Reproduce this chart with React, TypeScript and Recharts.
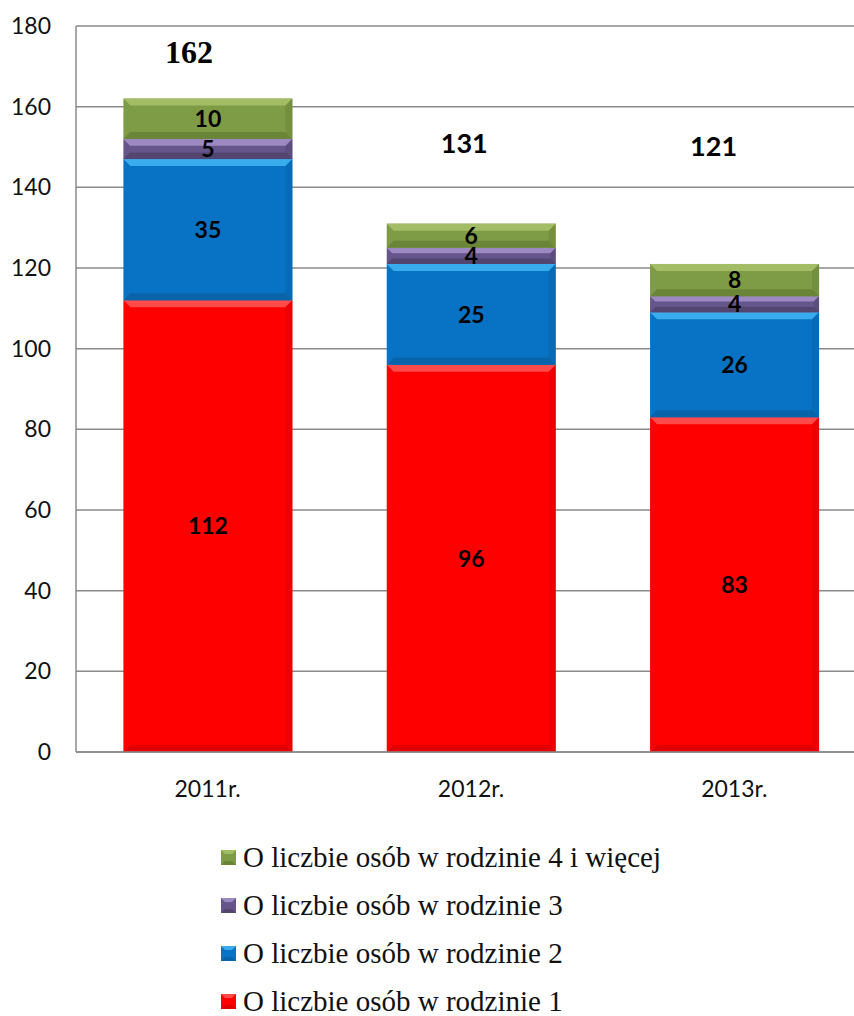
import { BarChart, Bar, XAxis, YAxis, CartesianGrid, LabelList } from "recharts";

const years = ["2011r.", "2012r.", "2013r."];
const family1 = [112, 96, 83];
const family2 = [35, 25, 26];
const family3 = [5, 4, 4];
const family4plus = [10, 6, 8];
const yTicks = [0, 20, 40, 60, 80, 100, 120, 140, 160, 180];

const seriesNames = [
  "O liczbie osób w rodzinie 1",
  "O liczbie osób w rodzinie 2",
  "O liczbie osób w rodzinie 3",
  "O liczbie osób w rodzinie 4 i więcej",
];

const SERIF = "'Liberation Serif', 'Times New Roman', 'DejaVu Serif', serif";
const SANS = "Lato";

// main / light bevel / dark bevel
const palette = [
  { main: "#ff0000", light: "#ff4a4a", dark: "#e00000" },
  { main: "#0873c4", light: "#38acec", dark: "#0863a8" },
  { main: "#65558a", light: "#9c89c2", dark: "#524670" },
  { main: "#7e9b45", light: "#a2bd66", dark: "#6a8538" },
];

// where the total sits relative to the top of each stack (as in the source)
const totalShift = [
  { dx: -19, dy: -47, font: SERIF, size: 32 },
  { dx: -7, dy: -81, font: SANS, size: 27 },
  { dx: -21, dy: -118, font: SANS, size: 27 },
];

const data = years.map((year, i) => ({
  year,
  f1: family1[i],
  f2: family2[i],
  f3: family3[i],
  f4: family4plus[i],
  total: family1[i] + family2[i] + family3[i] + family4plus[i],
}));

const keys = ["f1", "f2", "f3", "f4"];

function bevelShape(colors: { main: string; light: string; dark: string }) {
  return (props: any) => {
    const { x, y, width, height } = props;
    if (!height || height <= 0) return <g />;
    const b = Math.min(7, height / 3);
    return (
      <g>
        <rect x={x} y={y} width={width} height={height} fill={colors.main} />
        <polygon
          points={`${x},${y} ${x + width},${y} ${x + width - b},${y + b} ${x + b},${y + b}`}
          fill={colors.light}
        />
        <polygon
          points={`${x},${y + height} ${x + width},${y + height} ${x + width - b},${y + height - b} ${x + b},${y + height - b}`}
          fill={colors.dark}
        />
        <polygon
          points={`${x + width},${y} ${x + width - b},${y + b} ${x + width - b},${y + height - b} ${x + width},${y + height}`}
          fill={colors.dark}
          opacity={0.5}
        />
      </g>
    );
  };
}

const TotalLabel = (props: any) => {
  const { x, y, width, index } = props;
  const s = totalShift[index];
  return (
    <text
      x={x + width / 2 + s.dx}
      y={y + s.dy}
      textAnchor="middle"
      dominantBaseline="central"
      fontFamily={s.font}
      fontSize={s.size}
      fontWeight={700}
      fill="#000"
    >
      {data[index].total}
    </text>
  );
};

function LegendSwatch({ colors }: { colors: { main: string; light: string; dark: string } }) {
  return (
    <svg width={15} height={15} style={{ display: "block" }}>
      <rect x={0} y={0} width={15} height={15} fill={colors.main} />
      <polygon points="0,0 15,0 11,4 4,4" fill={colors.light} />
      <polygon points="0,15 15,15 11,11 4,11" fill={colors.dark} />
    </svg>
  );
}

export default function App() {
  const legendOrder = [3, 2, 1, 0];
  return (
    <div style={{ position: "absolute", left: 0, top: 0, width: 854, height: 1016, overflow: "hidden", background: "#fff" }}>
      <BarChart
        width={866}
        height={820}
        data={data}
        margin={{ top: 26, right: 0, left: 0, bottom: 0 }}
        barCategoryGap="18%"
      >
        <CartesianGrid vertical={false} stroke="#8a8a8a" strokeWidth={1.5} />
        <XAxis
          dataKey="year"
          height={68}
          tickLine={false}
          tickSize={0}
          tickMargin={29}
          axisLine={{ stroke: "#8a8a8a", strokeWidth: 1.5 }}
          tick={{ fontSize: 23, fill: "#111", fontFamily: SANS }}
        />
        <YAxis
          width={76}
          domain={[0, 180]}
          ticks={yTicks}
          interval={0}
          tickLine={false}
          tickSize={0}
          tickMargin={25}
          axisLine={{ stroke: "#8a8a8a", strokeWidth: 1.5 }}
          tick={{ fontSize: 23, fill: "#111", fontFamily: SANS }}
        />
        {keys.map((k, i) => (
          <Bar
            key={k}
            dataKey={k}
            stackId="a"
            name={seriesNames[i]}
            fill={palette[i].main}
            shape={bevelShape(palette[i])}
            isAnimationActive={false}
          >
            <LabelList
              dataKey={k}
              position="center"
              fill="#000"
              fontSize={23}
              fontWeight={700}
              fontFamily={SANS}
            />
            {i === 3 && <LabelList dataKey="total" content={TotalLabel} />}
          </Bar>
        ))}
      </BarChart>
      <div style={{ position: "absolute", left: 221, top: 833, fontFamily: SERIF }}>
        {legendOrder.map((i) => (
          <div key={i} style={{ display: "flex", alignItems: "center", height: 48 }}>
            <LegendSwatch colors={palette[i]} />
            <span
              style={{
                marginLeft: 7,
                fontFamily: SERIF,
                fontSize: 29,
                color: "#111",
                lineHeight: "48px",
              }}
            >
              {seriesNames[i]}
            </span>
          </div>
        ))}
      </div>
    </div>
  );
}
